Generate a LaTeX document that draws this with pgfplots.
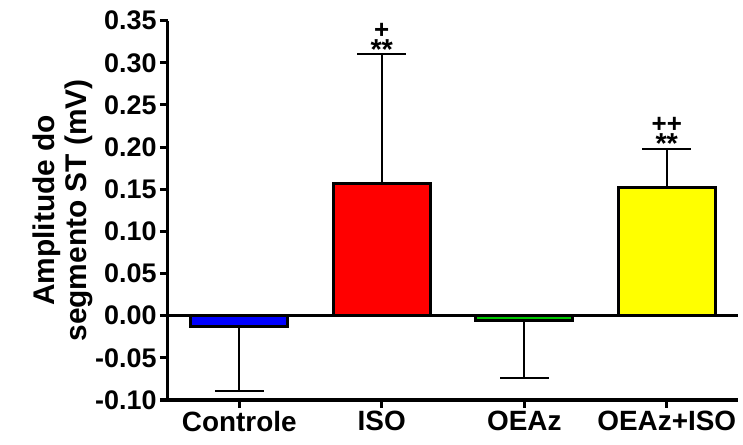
\documentclass[border=0pt]{standalone}
\usepackage{fontspec}
\setmainfont{Liberation Sans}
\usepackage{pgfplots}
\pgfplotsset{compat=1.18}
\definecolor{cblue}{RGB}{0,0,255}
\definecolor{cred}{RGB}{255,0,0}
\definecolor{cgreen}{RGB}{0,200,0}
\definecolor{cyellow}{RGB}{255,255,0}
\begin{document}
\begin{tikzpicture}
\begin{axis}[
  scale only axis, width=570bp, height=379.3bp,
  xmin=-0.5, xmax=3.5, ymin=-0.10, ymax=0.35,
  axis x line=bottom, axis y line=left,
  axis line style={-, line width=3bp, black},
  ytick={-0.10,-0.05,0,0.05,0.10,0.15,0.20,0.25,0.30,0.35},
  xtick={0,1,2,3}, xticklabels={Controle,ISO,OEAz,OEAz+ISO},
  tick align=outside, major tick length=8bp,
  tick style={line width=3bp, black},
  /pgf/number format/assume math mode=true,
  /pgf/number format/fixed, /pgf/number format/fixed zerofill, /pgf/number format/precision=2,
  yticklabel style={font=\fontsize{27}{30}\selectfont\bfseries},
  xticklabel style={font=\fontsize{28}{34}\selectfont\bfseries},
  clip=false,
  every axis plot/.append style={ybar, bar width=97bp, bar shift=0pt, draw=black, line width=3bp,
    /pgfplots/error bars/y explicit,
    /pgfplots/error bars/error bar style={line width=2bp, black},
    /pgfplots/error bars/error mark options={rotate=90, line width=2bp, mark size=24.5bp, black}},
]
\addplot[fill=cblue, /pgfplots/error bars/y dir=minus] coordinates {(0,-0.013) +- (0,0.076)};
\addplot[fill=cred, /pgfplots/error bars/y dir=plus] coordinates {(1,0.157) +- (0,0.153)};
\addplot[fill=cgreen, /pgfplots/error bars/y dir=minus] coordinates {(2,-0.006) +- (0,0.068)};
\addplot[fill=cyellow, /pgfplots/error bars/y dir=plus] coordinates {(3,0.152) +- (0,0.046)};
\draw[line width=3bp, black] (axis cs:-0.5,0) -- (axis cs:3.5,0);
\node[font=\bfseries, align=center, anchor=south, inner sep=0pt, yshift=-5bp] at (axis cs:1,0.310) {\fontsize{26}{23}\selectfont +\\\fontsize{29}{23}\selectfont **};
\node[font=\bfseries, align=center, anchor=south, inner sep=0pt, yshift=-5bp] at (axis cs:3,0.198) {\fontsize{26}{23}\selectfont ++\\\fontsize{29}{23}\selectfont **};
\node[rotate=90, align=center, font=\fontsize{30}{32}\selectfont\bfseries] at ([xshift=-105bp]rel axis cs:0,0.5) {Amplitude do\\segmento ST (mV)};
\end{axis}
\pgfresetboundingbox
\path (current axis.south west) ++(-168bp,-45bp) rectangle ++(743bp,445bp);
\end{tikzpicture}
\end{document}
